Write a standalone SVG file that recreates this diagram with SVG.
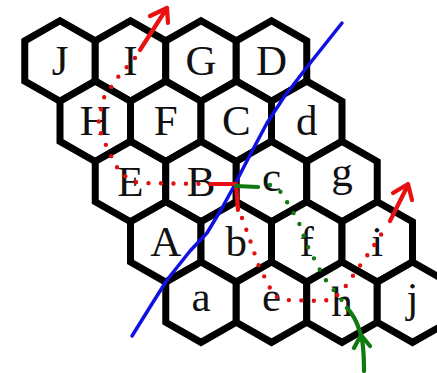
<svg xmlns="http://www.w3.org/2000/svg" xmlns:xlink="http://www.w3.org/1999/xlink" width="437" height="373" viewBox="0 0 437 373">
<style>
.hx{fill:#fff;stroke:#000;stroke-width:7;stroke-linejoin:miter}
.lb{font-family:"Liberation Serif","Times New Roman",serif;font-size:43px;fill:#111;text-anchor:middle}
.blue{fill:none;stroke:#1010e0;stroke-width:3.5;stroke-linecap:round;stroke-linejoin:round}
.rdot{fill:none;stroke:#e01010;stroke-width:4.4;stroke-linecap:round;stroke-dasharray:0 12.5}
.gdot{fill:none;stroke:#107a10;stroke-width:4.4;stroke-linecap:round;stroke-dasharray:0 12.5}
.rs{fill:none;stroke:#e81010;stroke-width:4.2;stroke-linecap:round;stroke-linejoin:round}
.gs{fill:none;stroke:#107a10;stroke-width:4.2;stroke-linecap:round;stroke-linejoin:round}
</style>
<defs>
<path id="hex" class="hx" d="M0,-40.2 L35.25,-20.1 L35.25,20.1 L0,40.2 L-35.25,20.1 L-35.25,-20.1 Z"/>
</defs>
<rect width="437" height="373" fill="#fff"/>
<g id="nodes">
<g id="J"><use href="#hex" x="60" y="61"/><text class="lb" x="60" y="75">J</text></g>
<g id="I"><use href="#hex" x="130.5" y="61"/><text class="lb" x="130.5" y="75">I</text></g>
<g id="G"><use href="#hex" x="201" y="61"/><text class="lb" x="201" y="75">G</text></g>
<g id="D"><use href="#hex" x="271.5" y="61"/><text class="lb" x="271.5" y="75">D</text></g>
<g id="H"><use href="#hex" x="95.25" y="121.3"/><text class="lb" x="95.25" y="135.3">H</text></g>
<g id="F"><use href="#hex" x="165.75" y="121.3"/><text class="lb" x="165.75" y="135.3">F</text></g>
<g id="C"><use href="#hex" x="236.25" y="121.3"/><text class="lb" x="236.25" y="135.3">C</text></g>
<g id="d"><use href="#hex" x="306.75" y="121.3"/><text class="lb" x="306.75" y="135.3">d</text></g>
<g id="E"><use href="#hex" x="130.5" y="181.6"/><text class="lb" x="130.5" y="195.6">E</text></g>
<g id="B"><use href="#hex" x="201" y="181.6"/><text class="lb" x="201" y="195.6">B</text></g>
<g id="c"><use href="#hex" x="271.5" y="181.6"/><text class="lb" x="271.5" y="190.6">c</text></g>
<g id="g"><use href="#hex" x="342" y="181.6"/><text class="lb" x="342" y="186.1">g</text></g>
<g id="A"><use href="#hex" x="165.75" y="241.9"/><text class="lb" x="165.75" y="255.9">A</text></g>
<g id="b"><use href="#hex" x="236.25" y="241.9"/><text class="lb" x="236.25" y="255.9">b</text></g>
<g id="f"><use href="#hex" x="306.75" y="241.9"/><text class="lb" x="306.75" y="255.9">f</text></g>
<g id="i"><use href="#hex" x="377.25" y="241.9"/><text class="lb" x="377.25" y="255.9">i</text></g>
<g id="a"><use href="#hex" x="201" y="302.2"/><text class="lb" x="201" y="311.2">a</text></g>
<g id="e"><use href="#hex" x="271.5" y="302.2"/><text class="lb" x="271.5" y="311.2">e</text></g>
<g id="h"><use href="#hex" x="342" y="302.2"/><text class="lb" x="342" y="316.2">h</text></g>
<g id="j"><use href="#hex" x="412.5" y="302.2"/><text class="lb" x="412.5" y="312.2">j</text></g>
</g>
<g id="connectors">
<path class="blue" d="M132,336 L150,307 L167,280 L190,251 L207,233 L222,208 L233,188 L250,155 L267,123 L284,97 L307,67 L342,23"/>
<path class="rdot" d="M135,58 L118,77 L103,99 L98,126 L108,150 L119,171 L130,180 L138,183 L213,184"/>
<path class="rs" d="M213,184 L236,184 L238,210"/>
<path class="rdot" d="M242,218 L249,237 L258,264 L269,286 L274,296 L286,300 L324,301 L334,298 L343,290 L357,270 L371,250 L384,230"/>
<path class="rs" d="M140,50 L167,8 M150,16 L167,8 L168,23"/>
<path class="rs" d="M390,221 L408,185 M393,193 L408,184 L412,200"/>
<path class="gs" d="M236,186 L258,187"/>
<path class="gdot" d="M270,185 L280,191 L292,210 L302,229 L305,241 L311,253 L316,262 L323,276 L330,286 L337,294 L344,303"/>
<path class="gs" d="M364,371 C364,355 363,340 360,332 C357,322 353,314 347,308 M354,348 L361,335 L370,346"/>
</g>
</svg>
